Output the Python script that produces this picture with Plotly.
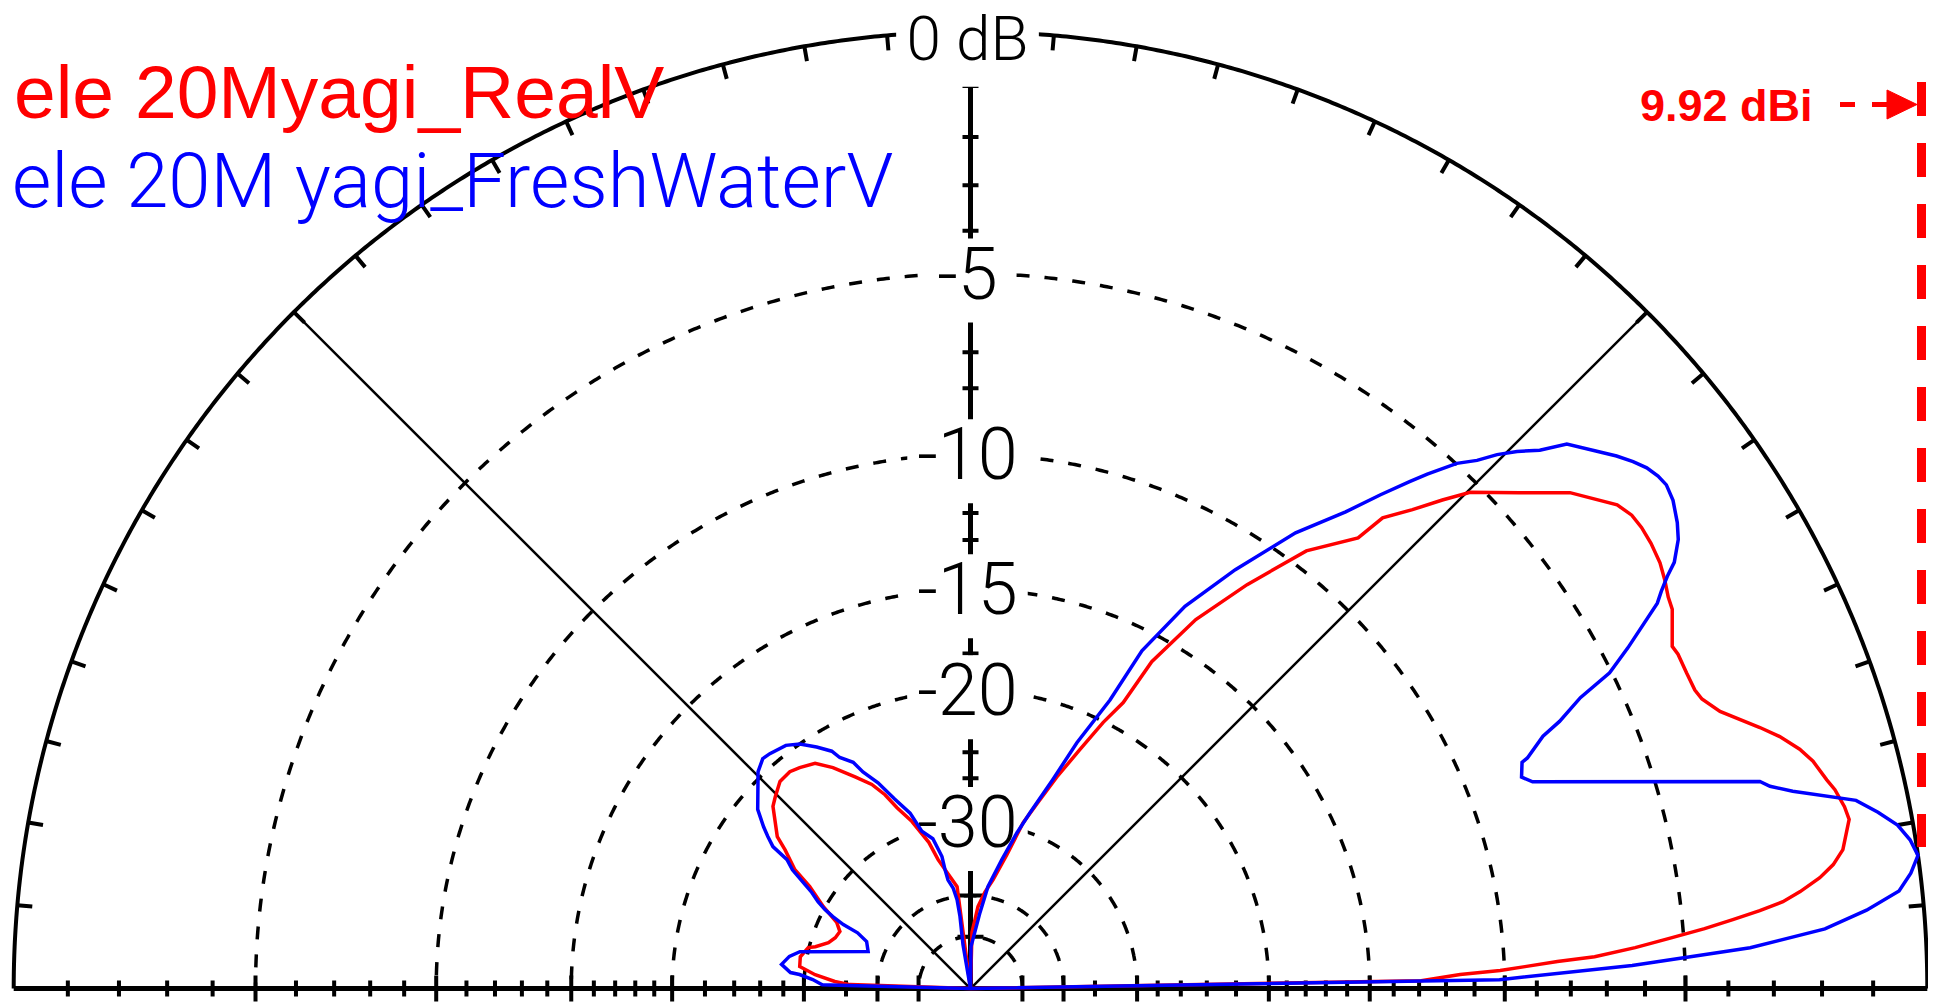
import numpy as np
import plotly.graph_objects as go

# ---------------- data ----------------
MAX_GAIN_DBI = 9.92          # outer ring (0 dB) = 9.92 dBi
RING_DB = [-5, -10, -15, -20, -30, -40, -50]
LABEL_DB = [0, -5, -10, -15, -20, -30]
LABEL_TEXT = ["0 dB", "-5", "-10", "-15", "-20", "-30"]
TICK_DB = list(range(-1, -21, -1)) + [-22, -24, -26, -28, -30, -35, -40, -50]
LONG_TICK_DB = [-5, -10, -15, -20, -30, -40, -50]
RIM_TICK_DEG = list(range(5, 180, 5))
SPOKE_DEG = [45, 135]

SERIES_NAMES = ["ele 20Myagi_RealV", "ele 20M yagi_FreshWaterV"]

real_el = [0, 1.0, 1.64, 1.95, 2.27, 2.64, 2.93, 3.53, 4.16, 4.67,
           5.17, 5.64, 6.11, 6.67, 7.44, 8.18, 9.05, 10.9, 11.76, 12.96,
           13.7, 15.1, 16.1, 17.3, 18.3, 19.3, 20.3, 21.6, 22.4, 23.8,
           25.3, 26.0, 28.4, 29.3, 30.5, 31.7, 33.2, 34.5, 35.6, 36.8,
           38.1, 39.6, 42.1, 44.8, 46.0, 47.3, 48.8, 49.3, 52.5, 55.6,
           58.6, 61.0, 61.9, 63.5, 65.4, 67.8, 70.1, 72.4, 74.8, 78.3,
           81.5, 84.8, 86.3, 88.5, 90, 97.5, 104.1, 105.9, 109.3, 112.1,
           113.8, 115.8, 118.6, 121.9, 124.6, 127.7, 129.8, 132.6, 135.5, 137.3,
           141.8, 143.2, 145.9, 147.6, 150.9, 153.7, 156.4, 159.4, 162.1, 164.9,
           165.8, 169.4, 172.6, 174.9, 177.0, 178.1, 180]
real_gain = [-999, -3.00, -1.57, -0.22, 0.57, 1.55, 2.61, 3.70, 4.64, 5.43,
             6.09, 6.70, 7.21, 7.59, 8.02, 8.32, 8.55, 8.77, 8.73, 8.62,
             8.51, 8.34, 8.15, 7.84, 7.51, 7.17, 6.83, 6.56, 6.49, 6.47,
             6.47, 6.43, 6.80, 6.85, 6.97, 7.07, 7.13, 7.15, 7.13, 7.01,
             6.70, 6.37, 5.50, 4.66, 4.04, 3.33, 2.63, 1.75, 0.47, -1.58,
             -3.71, -6.21, -8.65, -10.13, -12.24, -14.65, -17.11, -19.32, -23.22, -27.05,
             -29.26, -32.19, -35.24, -38.65, -999, -28.36, -23.95, -21.64, -19.04, -17.36,
             -15.95, -14.79, -13.74, -12.42, -11.56, -11.21, -11.03, -11.08, -11.56, -11.87,
             -13.40, -14.43, -15.94, -17.79, -19.90, -21.97, -22.76, -22.53, -21.97, -20.70,
             -20.00, -19.42, -19.51, -21.21, -23.58, -25.63, -999]

fresh_el = [0, 0.97, 2, 3, 4, 5, 6, 7, 8, 9,
            10, 11, 12, 12.9, 13.5, 14.2, 14.7, 20.2, 21.0, 22.3,
            22.5, 23.8, 24.4, 25.5, 26.0, 26.3, 27.4, 28.1, 28.6, 29.3,
            29.9, 30.6, 31.2, 32.4, 33.4, 34.8, 35.9, 36.7, 37.6, 38.5,
            39.5, 40.9, 42.4, 43.4, 44.5, 45.4, 46.2, 47.2, 48.4, 49.1,
            50.3, 51.8, 54.5, 57.7, 60.7, 63.1, 64.2, 66.6, 68.5, 71.3,
            73.4, 76.3, 80.3, 82.9, 85.4, 89.3, 90, 99.7, 98.3, 98.6,
            99.8, 101.7, 102.1, 102.2, 103.3, 104.1, 107.2, 109.0, 111.8, 114.2,
            116.4, 117.4, 119.5, 120.3, 122.5, 124.9, 127.2, 129.0, 130.5, 132.1,
            134.4, 139.9, 142.0, 143.1, 144.3, 144.9, 146.3, 147.9, 148.8, 150.3,
            151.5, 152.4, 153.3, 153.7, 155.6, 160.1, 167.8, 169.9, 172.7, 174.9,
            175.3, 176.7, 178.5, 178.6, 180]
fresh_gain = [-999, -0.25, 3.60, 6.43, 8.02, 8.86, 9.50, 9.75, 9.92, 9.82,
              9.64, 9.33, 8.97, 8.24, 7.80, 7.37, 7.19, 1.88, 1.63, 1.80,
              1.99, 2.63, 3.20, 3.95, 4.49, 4.87, 5.52, 5.90, 6.20, 6.58,
              6.78, 7.05, 7.33, 7.65, 7.82, 8.00, 8.07, 8.04, 7.96, 7.82,
              7.63, 7.33, 7.01, 6.49, 6.11, 5.74, 5.32, 4.94, 4.26, 3.82,
              3.07, 2.10, 0.72, -1.37, -3.48, -5.98, -8.85, -11.93, -14.94, -18.23,
              -20.49, -23.95, -28.28, -33.43, -38.65, -43.69, -999, -42.68, -34.28, -30.68,
              -28.48, -27.08, -25.48, -23.68, -22.38, -21.38, -20.28, -18.23, -16.58, -14.88,
              -13.68, -12.78, -12.08, -11.48, -10.78, -10.08, -9.68, -9.58, -9.48, -9.43,
              -9.78, -11.28, -12.28, -12.88, -13.58, -14.98, -15.78, -17.38, -18.23, -19.18,
              -20.18, -21.28, -22.78, -24.88, -26.58, -27.38, -19.28, -18.38, -17.78, -18.68,
              -19.58, -20.98, -22.08, -25.38, -999]

# ---------------- scale helpers ----------------
def arrl_radius(db_rel):
    """ARRL log scale: radius x0.89 for every 2 dB."""
    return 0.89 ** (-np.asarray(db_rel, dtype=float) / 2.0)

W, H = 1936, 1003
PAGE_OFF = 8               # default body margin of the html page
PX = 956.8                 # pixels per unit radius
CX, CY = 970.5, 988.6      # page-pixel position of the origin
X_MIN = -(CX - PAGE_OFF) / PX
X_MAX = X_MIN + W / PX
Y_MAX = (CY - PAGE_OFF) / PX
Y_MIN = Y_MAX - H / PX


def px(n):
    return n / PX


def fx(xp):
    return (xp - CX) / PX


def fy(yp):
    return (CY - yp) / PX


def polar_xy(el_deg, gain_dbi):
    r = arrl_radius(np.asarray(gain_dbi, dtype=float) - MAX_GAIN_DBI)
    t = np.radians(np.asarray(el_deg, dtype=float))
    return r * np.cos(t), r * np.sin(t)


def path_from(xs, ys):
    return "M " + " L ".join(f"{x:.5f},{y:.5f}" for x, y in zip(xs, ys))


shapes = []
th = np.radians(np.linspace(0, 180, 721))
for lv in RING_DB:
    r = float(arrl_radius(lv))
    shapes.append(dict(type="path", xref="x", yref="y", layer="below",
                       path=path_from(r * np.cos(th), r * np.sin(th)),
                       line=dict(color="black", width=3.5, dash="13px,15px")))
# outer circle
shapes.append(dict(type="path", xref="x", yref="y", layer="below",
                   path=path_from(np.cos(th), np.sin(th)),
                   line=dict(color="black", width=4)))
for a in SPOKE_DEG:
    shapes.append(dict(type="line", xref="x", yref="y", layer="below",
                       x0=0, y0=0, x1=np.cos(np.radians(a)), y1=np.sin(np.radians(a)),
                       line=dict(color="black", width=2.5)))
# baseline and vertical axis
shapes.append(dict(type="line", xref="x", yref="y", layer="below",
                   x0=-1, y0=0, x1=1, y1=0, line=dict(color="black", width=5)))
shapes.append(dict(type="line", xref="x", yref="y", layer="below",
                   x0=0, y0=0, x1=0, y1=1, line=dict(color="black", width=5)))
# dB ticks on baseline (both sides) and vertical axis
segs = []
for lv in TICK_DB:
    r = float(arrl_radius(lv))
    h = px(13) if lv in LONG_TICK_DB else px(8)
    for s in (-1, 1):
        segs.append(f"M {s*r:.5f},{-h:.5f} L {s*r:.5f},{h:.5f}")
    segs.append(f"M {-h:.5f},{r:.5f} L {h:.5f},{r:.5f}")
shapes.append(dict(type="path", xref="x", yref="y", layer="below", path=" ".join(segs),
                   line=dict(color="black", width=4)))
# rim ticks every 5 degrees
segs = []
for a in RIM_TICK_DEG:
    c, s_ = np.cos(np.radians(a)), np.sin(np.radians(a))
    r2 = 1 - px(15)
    segs.append(f"M {c:.5f},{s_:.5f} L {c*r2:.5f},{s_*r2:.5f}")
shapes.append(dict(type="path", xref="x", yref="y", layer="below", path=" ".join(segs),
                   line=dict(color="black", width=4)))

# white boxes behind the ring labels
CHAR_W = {"-": 0.30, " ": 0.26, "d": 0.56, "B": 0.63}
LABEL_FS = [62, 72, 72, 72, 72, 72]
label_x = -px(3)
label_y = [float(arrl_radius(lv)) - px(7) - (px(6) if lv == 0 else 0) for lv in LABEL_DB]
for t, y, fs in zip(LABEL_TEXT, label_y, LABEL_FS):
    w = sum(CHAR_W.get(ch, 0.5615) for ch in t) * fs + 18
    shapes.append(dict(type="rect", xref="x", yref="y", layer="below",
                       x0=label_x - px(w / 2), x1=label_x + px(w / 2),
                       y0=y - px(42), y1=y + px(42),
                       fillcolor="white", line=dict(width=0)))

# 9.92 dBi marker (red dashed line + arrow)
RED = "#ff0000"
BLUE = "#0000ff"
shapes.append(dict(type="line", xref="x", yref="y", x0=fx(1921.5), x1=fx(1921.5),
                   y0=fy(82), y1=fy(847), line=dict(color=RED, width=9, dash="34px,27px")))
shapes.append(dict(type="line", xref="x", yref="y", x0=fx(1840), x1=fx(1890),
                   y0=fy(104.5), y1=fy(104.5), line=dict(color=RED, width=5, dash="15px,17px")))
shapes.append(dict(type="path", xref="x", yref="y",
                   path=f"M {fx(1887):.5f},{fy(90):.5f} L {fx(1917):.5f},{fy(104.5):.5f} "
                        f"L {fx(1887):.5f},{fy(119):.5f} Z",
                   fillcolor=RED, line=dict(color=RED, width=1)))

fig = go.Figure()
fig.add_trace(go.Scatter(x=[label_x] * len(LABEL_TEXT), y=label_y, mode="text",
                         text=LABEL_TEXT, textposition="middle center",
                         textfont=dict(family="Roboto", size=LABEL_FS, color="black", weight=300),
                         cliponaxis=False, hoverinfo="skip", showlegend=False))

rx, ry = polar_xy(real_el, real_gain)
bx, by = polar_xy(fresh_el, fresh_gain)
fig.add_trace(go.Scatter(x=rx, y=ry, mode="lines", name=SERIES_NAMES[0],
                         line=dict(color=RED, width=3.5), showlegend=False))
fig.add_trace(go.Scatter(x=bx, y=by, mode="lines", name=SERIES_NAMES[1],
                         line=dict(color=BLUE, width=3.5), showlegend=False))

annotations = [
    dict(x=fx(12), y=fy(92), xref="x", yref="y", xanchor="left", yanchor="middle",
         text=SERIES_NAMES[0], showarrow=False,
         font=dict(family="Liberation Sans", size=75, color=RED)),
    dict(x=fx(10), y=fy(181), xref="x", yref="y", xanchor="left", yanchor="middle",
         text=SERIES_NAMES[1], showarrow=False,
         font=dict(family="Roboto", size=76, color=BLUE, weight=300)),
    dict(x=fx(1638), y=fy(105.5), xref="x", yref="y", xanchor="left", yanchor="middle",
         text=f"<b>{MAX_GAIN_DBI:.2f} dBi</b>", showarrow=False,
         font=dict(family="Liberation Sans", size=45, color=RED)),
]

fig.update_layout(
    width=W, height=H,
    margin=dict(l=0, r=0, t=0, b=0, autoexpand=False),
    paper_bgcolor="white", plot_bgcolor="white",
    xaxis=dict(range=[X_MIN, X_MAX], visible=False, fixedrange=True),
    yaxis=dict(range=[Y_MIN, Y_MAX], visible=False, fixedrange=True),
    shapes=shapes, annotations=annotations, showlegend=False,
)
fig.write_html("out.html")
